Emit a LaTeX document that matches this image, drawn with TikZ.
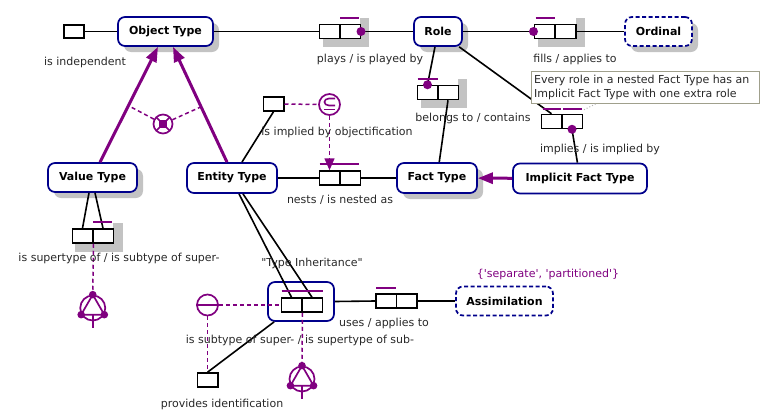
\documentclass[tikz,border=0pt]{standalone}
\usepackage{fontspec}
\setmainfont{DejaVu Sans}[Ligatures=TeXOff]
\usetikzlibrary{arrows.meta,shadows,calc}
\definecolor{pu}{RGB}{128,0,128}
\definecolor{nv}{RGB}{0,0,139}
\definecolor{sh}{RGB}{195,195,195}
\definecolor{txt}{RGB}{40,40,40}
\definecolor{notec}{RGB}{160,160,140}
\begin{document}
\begin{tikzpicture}[x=1pt,y=-1pt,
 font=\fontsize{11}{14}\selectfont,
 ent/.style={draw=nv, line width=1.7pt, rounded corners=7pt, fill=white, inner sep=0pt,
   font=\fontsize{11}{13}\selectfont\bfseries, minimum height=29pt},
 shad/.style={drop shadow={shadow xshift=6pt, shadow yshift=-6pt, fill=sh, opacity=1}},
 cell/.style={draw, line width=1.5pt, fill=white, minimum width=20.5pt, minimum height=14pt, inner sep=0pt},
 lbl/.style={text=txt, inner sep=0pt},
 conn/.style={line width=1.6pt},
 pdash/.style={draw=pu, line width=1.5pt, dash pattern=on 4pt off 3pt},
 ubar/.style={draw=pu, line width=1.7pt},
 sub/.style={draw=pu, line width=3pt, -{Triangle[length=15pt,width=11pt]}},
 cons/.style={circle, draw=pu, line width=1.7pt, fill=white, inner sep=0pt},
]
\useasboundingbox (0,0) rectangle (777,418);

% fact type shadows
\fill[sh] (360,18) rectangle (369,47); \fill[sh] (323,38) rectangle (369,47);
\fill[sh] (576,18) rectangle (585,47); \fill[sh] (538,39) rectangle (585,47);
\fill[sh] (458,79) rectangle (467,108); \fill[sh] (421,99) rectangle (467,108);
\fill[sh] (113,223) rectangle (123,252); \fill[sh] (75,243) rectangle (123,252);

% entity nodes
\node[ent, shad, minimum width=95pt] (ot) at (165.5,31.5) {Object Type};
\node[ent, shad, minimum width=48pt] (role) at (438,31.5) {Role};
\node[ent, shad, dashed, dash pattern=on 4pt off 2.5pt, minimum width=67pt] (ord) at (658.5,31.5) {Ordinal};
\node[ent, shad, minimum width=89pt] (vt) at (92.5,177.5) {Value Type};
\node[ent, minimum width=90pt, minimum height=30pt] (et) at (232,178) {Entity Type};
\node[ent, shad, minimum width=80pt, minimum height=30pt] (ft) at (437,178) {Fact Type};
\node[ent, minimum width=134pt, minimum height=30pt] (ift) at (580,178.5) {Implicit Fact Type};
\node[ent, dashed, dash pattern=on 4pt off 2.5pt, minimum width=97pt] (asm) at (504.5,301) {Assimilation};
\node[ent, minimum width=66pt, minimum height=39pt] (ti) at (301,301.5) {};

% role cells
\node[cell, minimum width=20pt, minimum height=13pt] (ind) at (74,31.5) {};
\node[cell] (p1) at (329.5,31.5) {}; \node[cell] (p2) at (350,31.5) {};
\node[cell] (f1) at (544.5,31.5) {}; \node[cell] (f2) at (565.5,31.5) {};
\node[cell] (b1) at (427.5,92.5) {}; \node[cell] (b2) at (448,92.5) {};
\node[cell] (i1) at (551.5,121.5) {}; \node[cell] (i2) at (572,121.5) {};
\node[cell] (ob) at (273.5,104) {};
\node[cell] (n1) at (329.5,178) {}; \node[cell] (n2) at (350,178) {};
\node[cell] (v1) at (82.5,236) {}; \node[cell] (v2) at (103,236) {};
\node[cell] (t1) at (291.5,305) {}; \node[cell] (t2) at (312,305) {};
\node[cell] (u1) at (386,301) {}; \node[cell] (u2) at (406.5,301) {};
\node[cell] (pi) at (207.5,380) {};

% connectors
\draw[conn] (ind) -- (ot);
\draw[conn] (ot) -- (p1);
\draw[conn] (p2) -- (role);
\draw[conn] (role) -- (f1);
\draw[conn] (f2) -- (ord);
\draw[conn] (role) -- (b1.north);
\draw[conn] (b2.south) -- (ft);
\draw[conn] (role) -- (i1.north);
\draw[conn] (i2.south) -- (ift);
\draw[conn] (ob.south) -- (et);
\draw[conn] (et) -- (n1);
\draw[conn] (n2) -- (ft);
\draw[conn] ($(vt.south)+(-3.5,0)$) -- (v1.north);
\draw[conn] ($(vt.south)+(2.5,0)$) -- (v2.north);
\draw[conn] ($(et.south)+(7,0)$) -- (t1.north);
\draw[conn] ($(et.south)+(11,0)$) -- (t2.north);
\draw[conn] (ti.east) -- (u1.west);
\draw[conn] (u2) -- (asm);
\draw[conn] (pi.north) -- (ti);

% subtype arrows
\coordinate (vtt) at ($(vt.north)+(7.5,0)$);
\coordinate (otl) at ($(ot.south)+(-7.5,0)$);
\coordinate (ett) at ($(et.north)+(-5,0)$);
\coordinate (otr) at ($(ot.south)+(7.5,0)$);
\draw[sub] (vtt) -- (otl);
\draw[sub] (ett) -- (otr);
\draw[sub] (ift) -- (ft);

% exclusive-or constraint
\node[cons, minimum size=19pt] (xor) at (163,124) {};
\draw[pdash] (xor) -- ($(vtt)!0.49!(otl)$);
\draw[pdash] (xor) -- ($(ett)!0.48!(otr)$);
\draw[pu, line width=1.5pt] ($(xor)+(-6.5,-6.5)$) -- ($(xor)+(6.5,6.5)$) ($(xor)+(-6.5,6.5)$) -- ($(xor)+(6.5,-6.5)$);
\fill[pu] ($(xor)+(-4,-4)$) rectangle ($(xor)+(4,4)$);

% subset constraint
\node[cons, minimum size=21pt] (subs) at (329.5,104.5) {};
\draw[pu, line width=1.6pt] (335,98.5) -- (329,98.5) .. controls (323,98.5) and (323,105.5) .. (329,105.5) -- (335,105.5);
\draw[pu, line width=1.6pt] (324,109.5) -- (335,109.5);
\draw[pdash] (ob.east) -- (subs.west);
\draw[pdash, -{Triangle[length=12pt,width=10pt]}] (subs.south) -- (n1.north);

% exclusion constraint
\node[cons, minimum size=21pt] (excl) at (207.5,305) {};
\draw[pu, line width=1.6pt] (excl.west) -- (excl.east);
\draw[pdash] (excl.east) -- (t1.west);
\draw[pdash] (excl.south) -- (pi.north);

% ring constraints
\node[cons, fill=none, minimum size=25pt] (r1) at (92.75,308) {};
\node[cons, fill=none, minimum size=25pt] (r2) at (302,379) {};
\foreach \r in {r1,r2}{
  \draw[pu, line width=1.7pt] (\r.90) -- (\r.210) -- (\r.330) -- cycle;
  \draw[pu, line width=1.7pt] ($(\r.center)+(0,6)$) -- ($(\r.south)+(0,7)$);
  \fill[pu] (\r.90) circle (3.8) (\r.210) circle (3.8) (\r.330) circle (3.8);
}
\draw[pdash] (v1.south east) -- (r1.north);
\draw[pdash] (t1.south east) -- (r2.north);

% uniqueness bars
\draw[ubar] ($(p2.north west)+(1,-6)$) -- ($(p2.north east)+(-2,-6)$);
\draw[ubar] ($(f1.north west)+(2,-6)$) -- ($(f1.north east)+(-1,-6)$);
\draw[ubar] ($(b1.north west)+(1,-6)$) -- ($(b1.north east)+(-1,-6)$);
\draw[ubar] ($(i1.north west)+(2,-5)$) -- ($(i1.north east)+(-2,-5)$);
\draw[ubar] ($(i2.north west)+(2,-5)$) -- ($(i2.north east)+(-1,-5)$);
\draw[ubar] ($(n1.north west)+(1,-6)$) -- ($(n2.north east)+(-2,-6)$);
\draw[ubar] ($(v2.north west)+(1,-6)$) -- ($(v2.north east)+(-2,-6)$);
\draw[ubar] ($(t1.north west)+(1,-6)$) -- ($(t2.north east)+(0,-6)$);
\draw[ubar] ($(u1.north west)+(1,-5)$) -- ($(u1.north east)+(-1,-5)$);

% mandatory dots
\fill[pu] (p2.east) circle (4.5);
\fill[pu] (f1.west) circle (4.5);
\fill[pu] (b1.north) circle (4.5);
\fill[pu] (i2.south) circle (4.5);

% note
\node[draw=notec, line width=1pt, fill=white, minimum width=228pt, minimum height=32pt, inner sep=0pt] (note) at (645,87) {};
\node[lbl, align=left, anchor=west] at (534,87) {Every role in a nested Fact Type has an\\Implicit Fact Type with one extra role};
\draw[gray!60, line width=1pt, dotted] ($(i2.north east)+(1,-4)$) -- ($(note.south west)+(66,0)$);

% labels
\node[lbl] at (85,62) {is independent};
\node[lbl] at (370,59) {plays / is played by};
\node[lbl] at (575,59) {fills / applies to};
\node[lbl] at (473,118) {belongs to / contains};
\node[lbl] at (337,132) {is implied by objectification};
\node[lbl] at (340,200) {nests / is nested as};
\node[lbl] at (600,149) {implies / is implied by};
\node[lbl] at (119,258) {is supertype of / is subtype of super-};
\node[lbl] at (312,263) {"Type Inheritance"};
\node[lbl, text=pu] at (548,274) {\{'separate', 'partitioned'\}};
\node[lbl] at (384,323) {uses / applies to};
\node[lbl] at (300,340) {is subtype of super- / is supertype of sub-};
\node[lbl] at (222,404) {provides identification};
\end{tikzpicture}
\end{document}
